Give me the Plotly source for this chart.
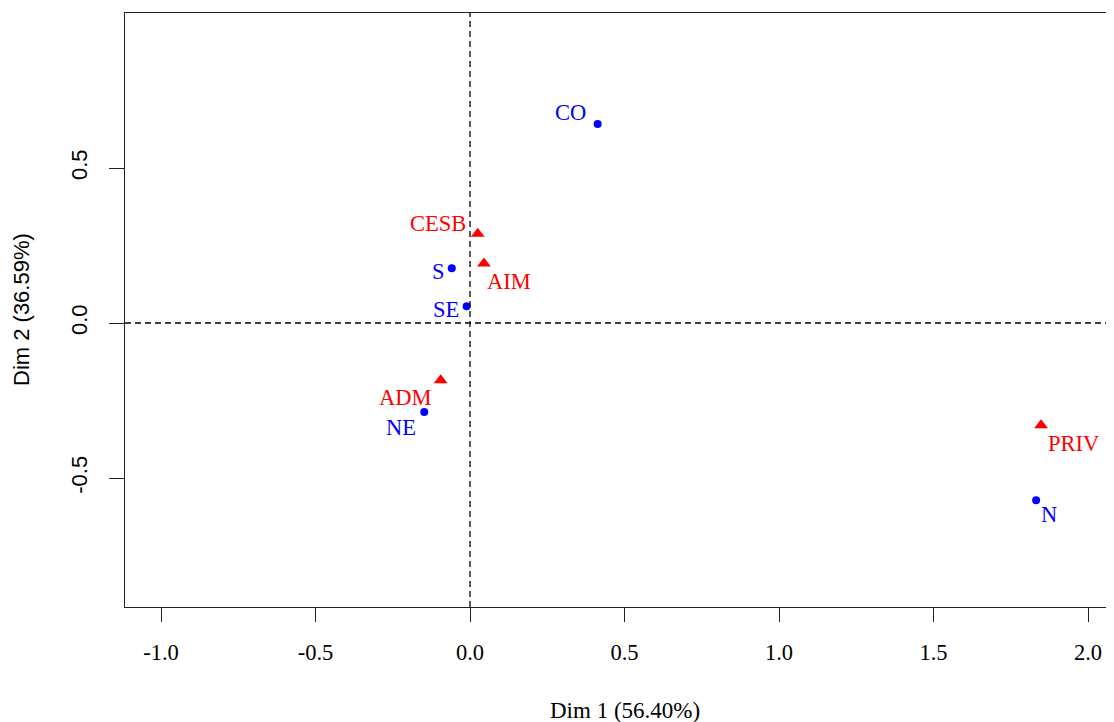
import plotly.graph_objects as go

# Row points (regions) - blue dots
row_labels = ["CO", "S", "SE", "NE", "N"]
row_x = [0.413, -0.059, -0.011, -0.148, 1.832]
row_y = [0.642, 0.177, 0.054, -0.287, -0.572]

# Column points (categories) - red triangles
col_labels = ["CESB", "AIM", "ADM", "PRIV"]
col_x = [0.025, 0.045, -0.095, 1.848]
col_y = [0.288, 0.192, -0.185, -0.330]

# label offsets in pixels (dx right, dy up)
row_off = [(-27, 11), (-13, -3), (-21, -3), (-23, -15), (13, -14)]
col_off = [(-40, 10), (25, -18), (-35, -17), (32, -18)]

x_ticks = [-1.0, -0.5, 0.0, 0.5, 1.0, 1.5, 2.0]
y_ticks = [-0.5, 0.0, 0.5]
x_title = "Dim 1 (56.40%)"
y_title = "Dim 2 (36.59%)"

SERIF = "Liberation Serif, Times New Roman, serif"
SANS = "Liberation Sans, Arial, sans-serif"

# page body has an 8px margin; size the figure to fill the rest of the window
W, H = 1106, 714
ML, MT, MB = 117, 5, 115
PW = W - ML

fig = go.Figure()
fig.add_trace(go.Scatter(x=row_x, y=row_y, mode="markers",
                         marker=dict(symbol="circle", size=8, color="#0000FF"),
                         showlegend=False, hoverinfo="skip"))
fig.add_trace(go.Scatter(x=col_x, y=col_y, mode="markers",
                         marker=dict(symbol="triangle-up", size=12, color="#FF0000"),
                         showlegend=False, hoverinfo="skip"))

annotations = []
for lab, x, y, (dx, dy) in zip(row_labels, row_x, row_y, row_off):
    annotations.append(dict(x=x, y=y, xref="x", yref="y", text=lab, showarrow=False,
                            xshift=dx, yshift=dy, font=dict(family=SERIF, size=22.5, color="#0000FF")))
for lab, x, y, (dx, dy) in zip(col_labels, col_x, col_y, col_off):
    annotations.append(dict(x=x, y=y, xref="x", yref="y", text=lab, showarrow=False,
                            xshift=dx, yshift=dy, font=dict(family=SERIF, size=22.5, color="#FF0000")))

# axis titles
annotations.append(dict(x=(625 - 125) / PW, y=0, xref="paper", yref="paper", text=x_title,
                        showarrow=False, yshift=-103, xanchor="center", yanchor="middle",
                        font=dict(family=SERIF, size=23, color="black")))
annotations.append(dict(x=0, y=0.5, xref="paper", yref="paper", text=y_title,
                        showarrow=False, xshift=-104, xanchor="center", yanchor="middle",
                        textangle=-90, font=dict(family=SANS, size=22, color="black")))

shapes = [
    dict(type="line", xref="x", yref="paper", x0=0, x1=0, y0=0, y1=1,
         line=dict(color="black", width=1.3, dash="6px,4px")),
    dict(type="line", xref="paper", yref="y", x0=0, x1=1, y0=0, y1=0,
         line=dict(color="black", width=1.3, dash="6px,4px")),
]

fig.update_layout(
    width=W, height=H,
    margin=dict(l=ML, r=0, t=MT, b=MB),
    paper_bgcolor="white", plot_bgcolor="white",
    annotations=annotations, shapes=shapes,
    xaxis=dict(range=[-1.1165, 2.084], tickvals=x_ticks,
               ticktext=[f"{v:.1f}" for v in x_ticks],
               showgrid=False, zeroline=False, showline=True, mirror=True,
               linecolor="#222", linewidth=1.3, ticks="outside", ticklen=14,
               tickcolor="#222", tickwidth=1.3, ticklabelstandoff=11,
               tickfont=dict(family=SERIF, size=22.5, color="black")),
    yaxis=dict(range=[-0.916, 1.0], tickvals=y_ticks,
               ticktext=[f"{v:.1f}" for v in y_ticks],
               showgrid=False, zeroline=False, showline=True, mirror=False,
               linecolor="#222", linewidth=1.3, ticks="outside", ticklen=15,
               tickcolor="#222", tickwidth=1.3, tickangle=-90, ticklabelstandoff=13,
               tickfont=dict(family=SANS, size=22, color="black")),
)

fig.write_html("out.html")
